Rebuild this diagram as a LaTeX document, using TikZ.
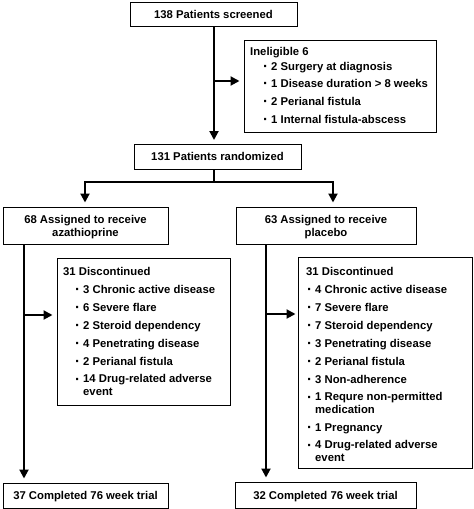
\documentclass[tikz,border=0pt]{standalone}
\usepackage{fontspec}
\setmainfont{Liberation Sans}
\usetikzlibrary{arrows.meta}
\begin{document}
\begin{tikzpicture}[x=1pt,y=-1pt,
  box/.style={draw=black,line width=1pt,inner sep=0pt,fill=white},
  txt/.style={inner sep=0pt,font=\bfseries\fontsize{11.3}{13}\selectfont},
  ctxt/.style={txt,anchor=base},
  ltxt/.style={txt,anchor=base west},
  arr/.style={line width=2pt,-{Triangle[length=9pt,width=9pt]}},
  ln/.style={line width=2pt}]
\useasboundingbox (0,0) rectangle (474,509);
\newcommand{\bul}{\makebox[8pt][l]{\raisebox{-1.6pt}{\fontsize{15}{15}\selectfont ·}}}
\newcommand{\twoline}[2]{\begin{tabular}[t]{@{}l@{}}#1\\#2\end{tabular}}
\newcommand{\twocent}[2]{\begin{tabular}[t]{@{}c@{}}#1\\#2\end{tabular}}
% boxes
\node[box,minimum width=167pt,minimum height=24pt] (screen) at (213.5,14) {};
\node[box,minimum width=192pt,minimum height=92pt] (inel) at (340,86) {};
\node[box,minimum width=167pt,minimum height=25pt] (rand) at (217.5,156.5) {};
\node[box,minimum width=165pt,minimum height=37pt] (aza) at (85.5,225.5) {};
\node[box,minimum width=180pt,minimum height=37pt] (plac) at (326,225.5) {};
\node[box,minimum width=173pt,minimum height=147pt] (discA) at (143.5,331.5) {};
\node[box,minimum width=174pt,minimum height=211pt] (discP) at (385,362.5) {};
\node[box,minimum width=165pt,minimum height=25pt] (compA) at (85.5,495.5) {};
\node[box,minimum width=181pt,minimum height=26pt] (compP) at (325.5,495) {};
% texts
\node[ctxt] (t1) at (213.5,18) {138 Patients screened};
\node[ltxt] (i0) at (250,55) {Ineligible 6};
\node[ltxt] (i1) at (263,70) {\bul2 Surgery at diagnosis};
\node[ltxt] (i2) at (263,87) {\bul1 Disease duration > 8 weeks};
\node[ltxt] (i3) at (263,105) {\bul2 Perianal fistula};
\node[ltxt] (i4) at (263,123) {\bul1 Internal fistula-abscess};
\node[ctxt] (t2) at (217.5,160.5) {131 Patients randomized};
\node[ctxt] (t3) at (85.5,223.5) {\twocent{68 Assigned to receive}{azathioprine}};
\node[ctxt] (t5) at (326,223.5) {\twocent{63 Assigned to receive}{placebo}};
\node[ltxt] (a0) at (63,275) {31 Discontinued};
\node[ltxt] (a1) at (75,293) {\bul3 Chronic active disease};
\node[ltxt] (a2) at (75,311) {\bul6 Severe flare};
\node[ltxt] (a3) at (75,329) {\bul2 Steroid dependency};
\node[ltxt] (a4) at (75,347) {\bul4 Penetrating disease};
\node[ltxt] (a5) at (75,365) {\bul2 Perianal fistula};
\node[ltxt] (a6) at (75,382.5) {\bul\twoline{14 Drug-related adverse}{event}};
\node[ltxt] (p0) at (306,275) {31 Discontinued};
\node[ltxt] (p1) at (307,293) {\bul4 Chronic active disease};
\node[ltxt] (p2) at (307,311) {\bul7 Severe flare};
\node[ltxt] (p3) at (307,329) {\bul7 Steroid dependency};
\node[ltxt] (p4) at (307,347) {\bul3 Penetrating disease};
\node[ltxt] (p5) at (307,365) {\bul2 Perianal fistula};
\node[ltxt] (p6) at (307,383) {\bul3 Non-adherence};
\node[ltxt] (p7) at (307,400.5) {\bul\twoline{1 Requre non-permitted}{medication}};
\node[ltxt] (p9) at (307,431) {\bul1 Pregnancy};
\node[ltxt] (p10) at (307,448.5) {\bul\twoline{4 Drug-related adverse}{event}};
\node[ctxt] (t7) at (85.5,499.5) {37 Completed 76 week trial};
\node[ctxt] (t8) at (325.5,499) {32 Completed 76 week trial};
% connectors
\coordinate (s1) at (214,26);
\coordinate (b1) at (214,81);
\coordinate (r1) at (214,144);
\draw[arr,shorten >=4pt] (s1) -- (r1);
\draw[arr,shorten >=4pt] (b1) -- (inel.west |- b1);
\coordinate (r2) at (214,169);
\coordinate (sp) at (214,182);
\coordinate (la) at (85,182);
\coordinate (lp) at (333,182);
\draw[ln] (r2) -- (sp);
\draw[arr,shorten >=4pt] (sp) -- (la) -- (la |- aza.north);
\draw[arr,shorten >=4pt] (sp) -- (lp) -- (lp |- plac.north);
\coordinate (va) at (24,244);
\coordinate (ba) at (24,315);
\draw[arr,shorten >=4pt] (va) -- (va |- compA.north);
\draw[arr,shorten >=4pt] (ba) -- (discA.west |- ba);
\coordinate (vp) at (266,244);
\coordinate (bp) at (266,314);
\draw[arr,shorten >=4pt] (vp) -- (vp |- compP.north);
\draw[arr,shorten >=2pt] (bp) -- (discP.west |- bp);
\end{tikzpicture}
\end{document}
